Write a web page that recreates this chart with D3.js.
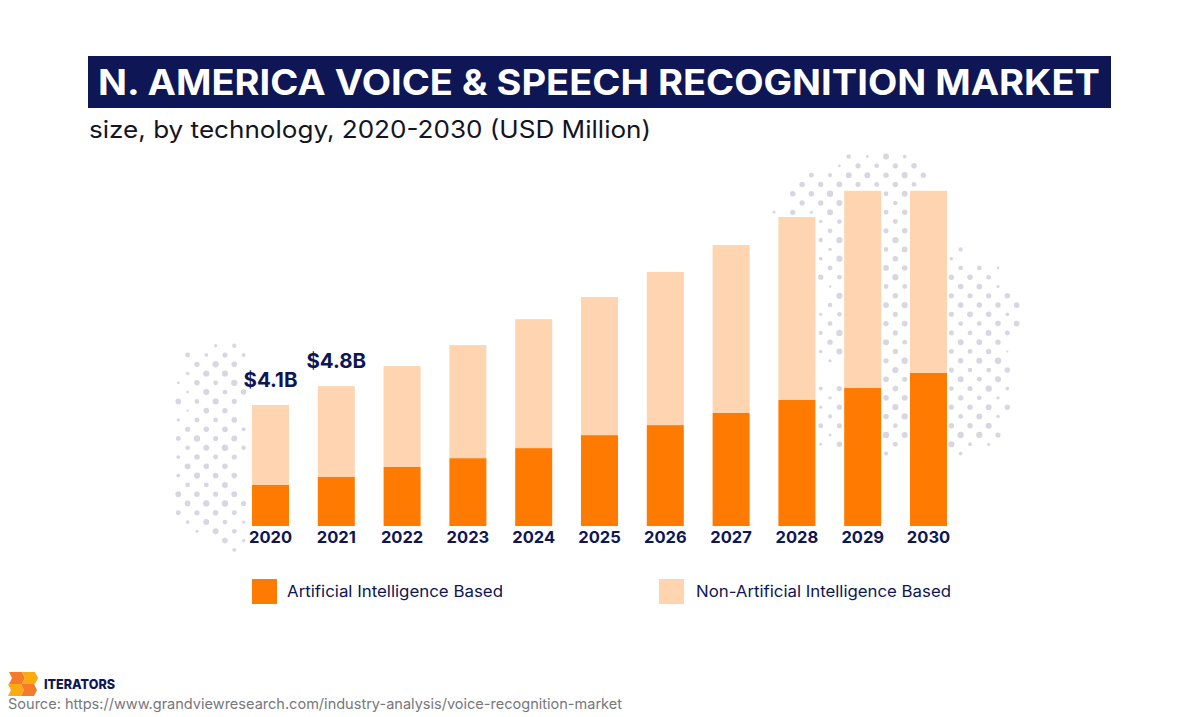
<!DOCTYPE html>
<html>
<head>
<meta charset="utf-8">
<script src="https://cdn.jsdelivr.net/npm/d3@7"></script>
<style>
  html, body { margin: 0; padding: 0; background: #fff; }
  text { font-family: "Inter", "Lato", sans-serif; }
</style>
</head>
<body>
<svg id="chart" width="1200" height="717"></svg>
<script>
// Values in USD million
const years = ["2020", "2021", "2022", "2023", "2024", "2025", "2026", "2027", "2028", "2029", "2030"];
const aiBased = [1390, 1660, 2000, 2300, 2640, 3080, 3420, 3830, 4270, 4680, 5190];
const nonAiBased = [2710, 3080, 3420, 3830, 4370, 4680, 5190, 5690, 6200, 6680, 6170];
const seriesNames = ["Artificial Intelligence Based", "Non-Artificial Intelligence Based"];
const totalLabels = ["$4.1B", "$4.8B"];

const navy = "#0e1655";
const orange = "#ff7a00";
const peach = "#fed5b0";
const dotColor = "#d6d7e3";

const svg = d3.select("#chart");

// Title block
svg.append("rect").attr("x", 88).attr("y", 56).attr("width", 1023).attr("height", 52).attr("fill", navy);
svg.append("text")
  .attr("x", 98).attr("y", 95)
  .attr("font-size", 35).attr("font-weight", 700).attr("fill", "#fff")
  .attr("textLength", 1002).attr("lengthAdjust", "spacingAndGlyphs")
  .text("N. AMERICA VOICE & SPEECH RECOGNITION MARKET");
svg.append("text")
  .attr("x", 89).attr("y", 138)
  .attr("font-size", 24).attr("font-weight", 400).attr("fill", "#15151f")
  .attr("textLength", 562).attr("lengthAdjust", "spacingAndGlyphs")
  .text("size, by technology, 2020-2030 (USD Million)");

// Dotted backdrop: staggered grid clipped to two blobs, dots shrink near the edge
const leftBlob = { x0: 178.3, y0: 345.7, poly: [[174, 341], [250, 341], [250, 556], [222, 556], [188, 540], [170, 520], [172, 440], [176, 380]] };
const rightBlob = { x0: 876.7, y0: 147.3, poly: [[770, 216], [796, 180], [835, 160], [875, 141], [895, 143], [930, 178], [935, 245], [965, 247], [1003, 262], [1024, 320], [1014, 375], [1004, 442], [962, 460], [820, 460], [818, 225]] };
const rightGap = [[810, 363], [850, 363], [850, 386], [810, 386]];

function edgeDistance(poly, p) {
  let best = Infinity;
  poly.forEach((a, i) => {
    const b = poly[(i + 1) % poly.length];
    const dx = b[0] - a[0], dy = b[1] - a[1];
    const t = Math.max(0, Math.min(1, ((p[0] - a[0]) * dx + (p[1] - a[1]) * dy) / (dx * dx + dy * dy)));
    best = Math.min(best, Math.hypot(p[0] - a[0] - t * dx, p[1] - a[1] - t * dy));
  });
  return best;
}

// fixed jitter per grid cell so the pattern looks hand scattered
function cellJitter(i, j) {
  const s = Math.sin(i * 12.9898 + j * 78.233) * 43758.5453;
  return s - Math.floor(s);
}

const dots = [];
[leftBlob, rightBlob].forEach(blob => {
  for (let i = -90; i <= 90; i++) {
    for (let j = -40; j <= 60; j++) {
      if ((i + j) % 2 !== 0) continue;
      const p = [blob.x0 + i * 9.33, blob.y0 + j * 9.28];
      if (!d3.polygonContains(blob.poly, p) || d3.polygonContains(rightGap, p)) continue;
      const d = edgeDistance(blob.poly, p);
      const jit = cellJitter(i, j);
      if (d < 10 && jit < 0.2) continue;
      const r = d < 14 ? 1 + jit * 1.9 : 2.3 + jit * 0.9;
      dots.push({ x: p[0], y: p[1], r });
    }
  }
});

svg.append("g").selectAll("circle")
  .data(dots)
  .enter()
  .append("circle")
  .attr("cx", d => d.x)
  .attr("cy", d => d.y)
  .attr("r", d => d.r)
  .attr("fill", dotColor);

// Scales
const x = d3.scaleBand().domain(years).range([252, 947]).paddingInner(0.4377).paddingOuter(0);
const y = d3.scaleLinear().domain([0, 12000]).range([526, 171.9]);

// Stacked bars
const rows = years.map((year, i) => ({ year, ai: aiBased[i], nonAi: nonAiBased[i] }));
const stacked = d3.stack().keys(["ai", "nonAi"])(rows);
const colors = { ai: orange, nonAi: peach };

svg.append("g").selectAll("g")
  .data(stacked)
  .enter()
  .append("g")
  .attr("fill", d => colors[d.key])
  .selectAll("rect")
  .data(d => d)
  .enter()
  .append("rect")
  .attr("x", d => x(d.data.year))
  .attr("width", x.bandwidth())
  .attr("y", d => y(d[1]))
  .attr("height", d => y(d[0]) - y(d[1]));

// Year axis
const axis = svg.append("g")
  .attr("transform", "translate(0,526)")
  .call(d3.axisBottom(x).tickSize(0).tickPadding(5));
axis.select(".domain").remove();
axis.selectAll("text")
  .attr("font-family", "Inter, Lato, sans-serif")
  .attr("font-size", 16.5)
  .attr("font-weight", 700)
  .attr("fill", navy);

// Total labels on the first two bars
svg.append("g").selectAll("text")
  .data(totalLabels)
  .enter()
  .append("text")
  .attr("x", (d, i) => x(years[i]) + x.bandwidth() / 2)
  .attr("y", (d, i) => y(aiBased[i] + nonAiBased[i]) - 18.5)
  .attr("text-anchor", "middle")
  .attr("font-size", 20.5)
  .attr("font-weight", 700)
  .attr("fill", navy)
  .text(d => d);

// Legend
const legendX = d3.scaleOrdinal().domain(seriesNames).range([252, 659]);
const legendColor = d3.scaleOrdinal().domain(seriesNames).range([orange, peach]);
const legend = svg.append("g").selectAll("g")
  .data(seriesNames)
  .enter()
  .append("g")
  .attr("transform", d => `translate(${legendX(d)},579)`);
legend.append("rect").attr("width", 25).attr("height", 25).attr("fill", d => legendColor(d));
legend.append("text")
  .attr("x", d => d === seriesNames[0] ? 35 : 37)
  .attr("y", 18)
  .attr("font-size", 16)
  .attr("fill", navy)
  .attr("textLength", d => d === seriesNames[0] ? 216 : 255)
  .attr("lengthAdjust", "spacingAndGlyphs")
  .text(d => d);

// Logo
const logo = svg.append("g").attr("transform", "translate(8,672)");
const chevron = (x0, y0) => `M${x0},${y0}h13l3,6l-3,6h-13l3,-6z`;
logo.append("path").attr("d", chevron(1, 0)).attr("fill", "#f47b2a");
logo.append("path").attr("d", chevron(14, 0)).attr("fill", "#fbab12");
logo.append("path").attr("d", chevron(0, 12)).attr("fill", "#fbab12");
logo.append("path").attr("d", chevron(13, 12)).attr("fill", "#f47b2a");

svg.append("text")
  .attr("x", 44).attr("y", 689)
  .attr("font-size", 13.5).attr("font-weight", 800).attr("fill", navy)
  .attr("textLength", 71).attr("lengthAdjust", "spacingAndGlyphs")
  .text("ITERATORS");
svg.append("text")
  .attr("x", 8).attr("y", 709)
  .attr("font-size", 14.5).attr("fill", "#77777c")
  .attr("textLength", 614).attr("lengthAdjust", "spacingAndGlyphs")
  .text("Source: https://www.grandviewresearch.com/industry-analysis/voice-recognition-market");
</script>
</body>
</html>
